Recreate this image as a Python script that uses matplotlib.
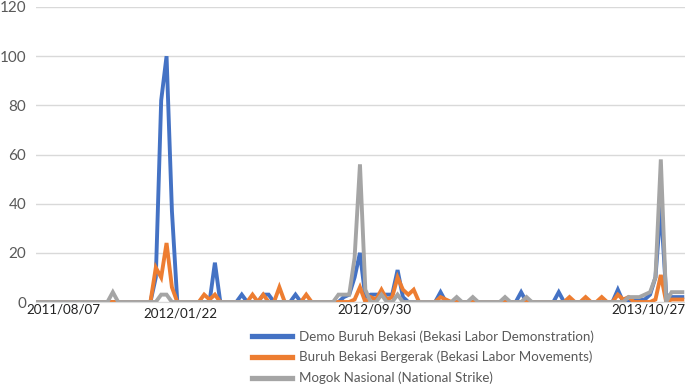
import matplotlib
matplotlib.use("Agg")
import matplotlib.pyplot as plt
import numpy as np
import pandas as pd

n_weeks = 121
start_date = "2011-08-07"

def series(points):
    vals = [0] * n_weeks
    for k, v in points.items():
        vals[k] = v
    return vals

demo_points = {22: 10, 23: 82, 24: 100, 25: 37, 33: 16, 38: 3, 42: 3, 43: 3, 48: 3,
               57: 2, 58: 3, 59: 10, 60: 20, 61: 2, 62: 3, 63: 3, 64: 3, 65: 3, 66: 3,
               67: 13, 68: 2, 75: 4, 90: 4, 97: 4, 108: 5, 111: 1, 112: 1, 113: 1,
               114: 3, 115: 10, 116: 39, 117: 3, 118: 2, 119: 2, 120: 2}
gerak_points = {22: 14, 23: 10, 24: 24, 25: 6, 31: 3, 32: 1, 33: 3, 40: 3, 42: 3, 45: 6,
                50: 3, 59: 1, 60: 6, 62: 2, 63: 1, 64: 5, 65: 1, 66: 2, 67: 10, 68: 5,
                69: 3, 70: 5, 75: 2, 76: 1, 99: 2, 102: 2, 105: 2, 108: 3, 109: 1, 110: 2,
                115: 1, 116: 11, 118: 1, 119: 1, 120: 1}
mogok_points = {14: 4, 23: 3, 24: 3, 56: 3, 57: 3, 58: 3, 59: 18, 60: 56, 61: 5, 64: 3,
                67: 3, 78: 2, 81: 2, 87: 2, 91: 2, 110: 2, 111: 2, 112: 2, 113: 3,
                114: 4, 115: 10, 116: 58, 117: 0, 118: 4, 119: 4, 120: 4}

demo = series(demo_points)
gerak = series(gerak_points)
mogok = series(mogok_points)

labels = ["Demo Buruh Bekasi (Bekasi Labor Demonstration)",
          "Buruh Bekasi Bergerak (Bekasi Labor Movements)",
          "Mogok Nasional (National Strike)"]
colors = ["#4472C4", "#ED7D31", "#A5A5A5"]

dates = pd.date_range(start_date, periods=n_weeks, freq="7D")
tick_dates = ["2011/08/07", "2012/01/22", "2012/09/30", "2013/10/27"]
tick_idx = [list(dates.strftime("%Y/%m/%d")).index(d) for d in tick_dates]
yticks = [0, 20, 40, 60, 80, 100, 120]

plt.rcParams['font.family'] = ['Lato', 'DejaVu Sans']
fig = plt.figure(figsize=(6.85, 3.87), dpi=100)
ax = fig.add_axes([36/685, 1-302/387, 649/685, 295/387])
x = np.arange(n_weeks)
for vals, lab, c in zip([demo, gerak, mogok], labels, colors):
    ax.plot(x, vals, color=c, lw=2.8, label=lab, solid_joinstyle="miter")

ax.set_ylim(0, 120)
ax.set_xlim(-0.3, 120.5)
ax.set_yticks(yticks)
ax.set_yticklabels([str(t) for t in yticks], fontsize=11, color="#595959")
ax.yaxis.grid(True, color="#d9d9d9", lw=1)
ax.set_axisbelow(True)
for s in ["top", "right", "left"]:
    ax.spines[s].set_visible(False)
ax.spines["bottom"].set_color("#d9d9d9")
ax.tick_params(axis="both", length=0)
ax.tick_params(axis="y", pad=7)

# category (date) labels, drawn at their week positions with Excel-like offsets
ax.set_xticks(tick_idx)
ax.set_xticklabels([])
offsets = [(26, -2), (14, -6), (14, -2), (-12, -2)]
for idx, lab, (dx, dy) in zip(tick_idx, tick_dates, offsets):
    ax.annotate(lab, xy=(idx, 0), xycoords=("data", "axes fraction"),
                xytext=(dx, dy), textcoords="offset pixels",
                ha="center", va="top", fontsize=9.6, color="#222222",
                annotation_clip=False)

leg = fig.legend(loc="upper left", bbox_to_anchor=(252/685, 1-330/387), frameon=False,
                 fontsize=9.6, handlelength=3.0, labelspacing=0.62, handletextpad=0.5,
                 borderaxespad=0, borderpad=0)
for t in leg.get_texts():
    t.set_color("#595959")
for h in leg.get_lines():
    h.set_linewidth(3.8)

fig.savefig("out.png", dpi=100)
